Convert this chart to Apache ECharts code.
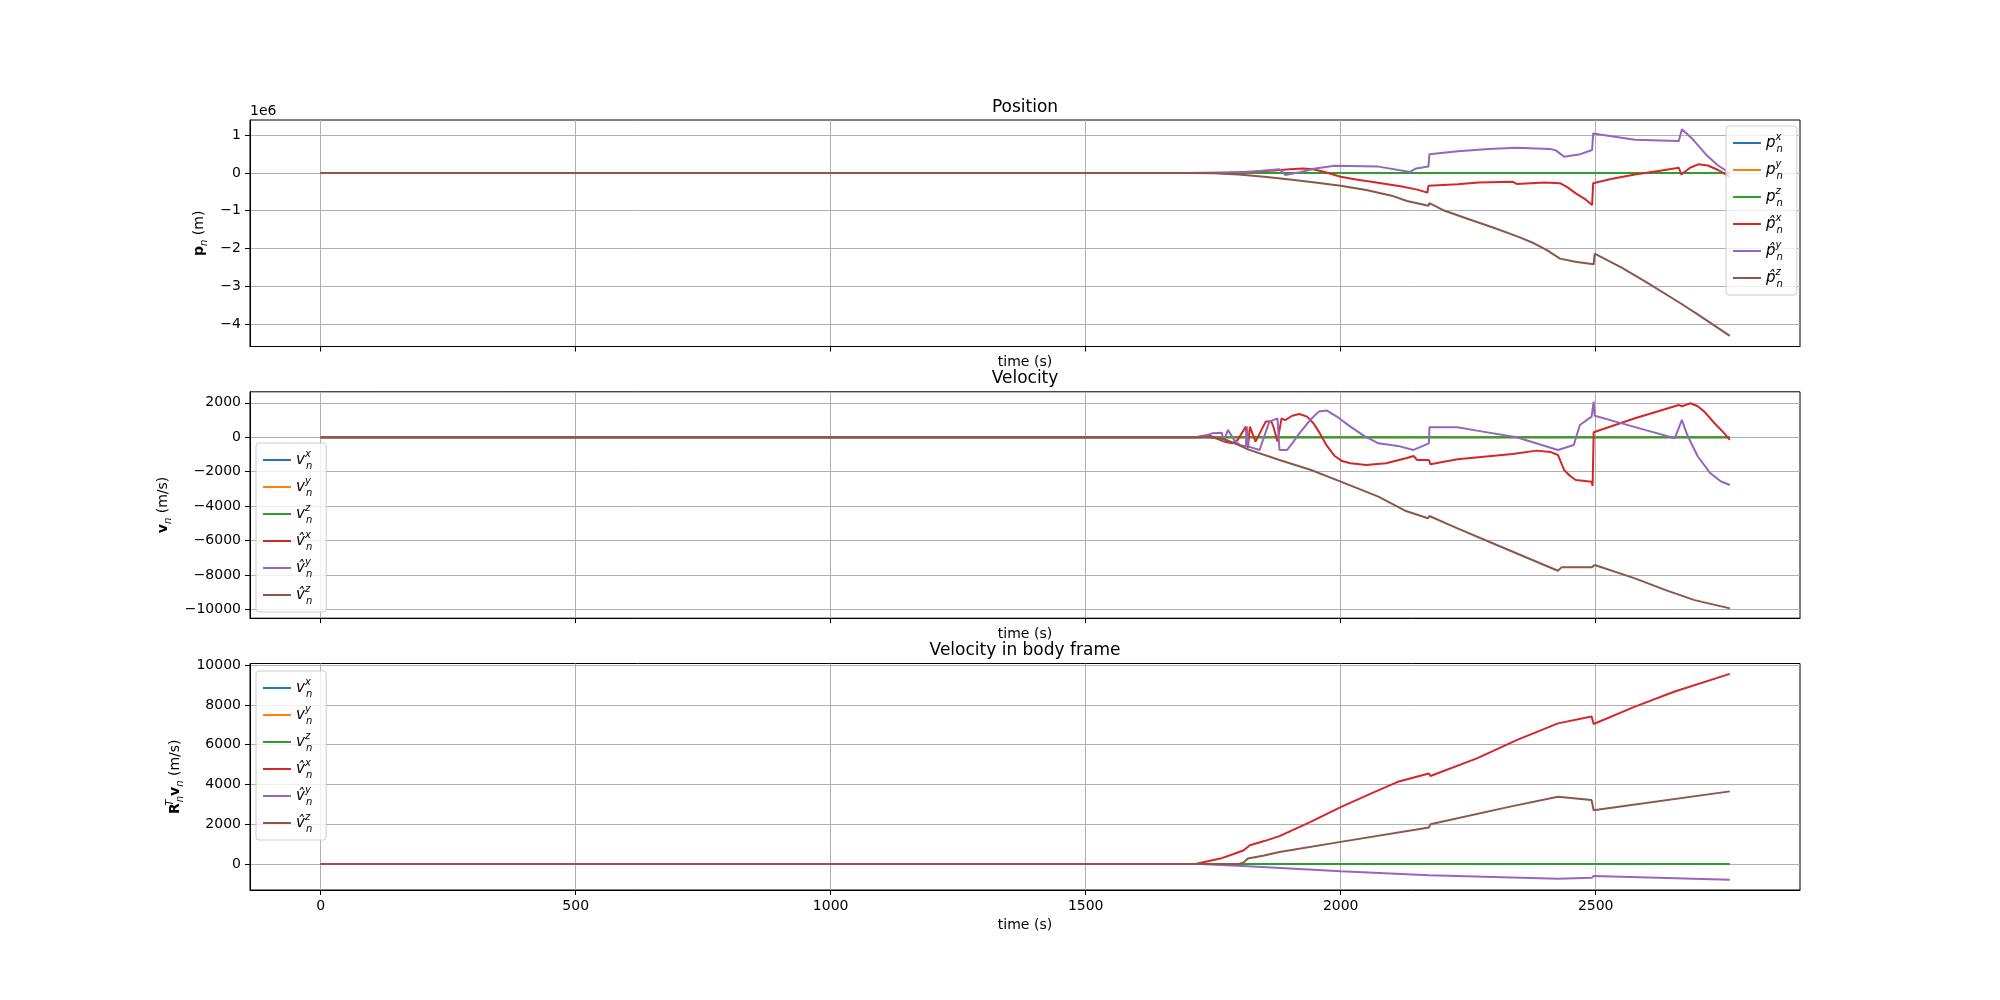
<!DOCTYPE html>
<html>
<head>
<meta charset="utf-8">
<title>Position / Velocity</title>
<script src="https://cdn.jsdelivr.net/npm/echarts@6/dist/echarts.min.js"></script>
<style>
  html, body { margin: 0; padding: 0; background: #fff; }
  #chart { width: 2000px; height: 1000px; }
</style>
</head>
<body>
<div id="chart"></div>
<script>
// shared time axis
const timeTicks = [0, 500, 1000, 1500, 2000, 2500];
const tEnd = 2763;

// Position panel, values in 1e6 m, points are [time (s), value]
const posTicks = [-4, -3, -2, -1, 0, 1];
const posTrueX = [[0, 0], [tEnd, 0]];
const posTrueY = [[0, 0], [tEnd, 0]];
const posTrueZ = [[0, 0], [tEnd, 0]];
const posHatX = [[0, 0], [1700, 0], [1780, 0.01], [1830, 0.04], [1870, 0.07], [1900, 0.1], [1926, 0.12],
  [1945, 0.1], [1965, 0.04], [1985, -0.04], [2000, -0.1], [2030, -0.17], [2070, -0.25], [2120, -0.36],
  [2150, -0.44], [2170, -0.52], [2172, -0.34], [2230, -0.3], [2270, -0.25], [2337, -0.23],
  [2345, -0.29], [2400, -0.25], [2430, -0.27], [2445, -0.38], [2461, -0.54], [2480, -0.7], [2493, -0.85],
  [2495, -0.27], [2530, -0.16], [2577, -0.04], [2620, 0.05], [2663, 0.14], [2668, -0.04], [2685, 0.14],
  [2701, 0.23], [2720, 0.2], [2740, 0.08], [2763, -0.1]];
const posHatY = [[0, 0], [1700, 0], [1818, 0.03], [1880, 0.1], [1891, -0.05], [1920, 0.02], [1950, 0.12],
  [1988, 0.19], [2074, 0.17], [2136, 0.03], [2148, 0.12], [2172, 0.17], [2174, 0.5], [2230, 0.58],
  [2290, 0.64], [2345, 0.67], [2410, 0.64], [2422, 0.6], [2438, 0.43], [2470, 0.5], [2493, 0.61],
  [2495, 1.05], [2577, 0.88], [2663, 0.85], [2669, 1.16], [2690, 0.9], [2717, 0.48], [2740, 0.2], [2763, 0.0]];
const posHatZ = [[0, 0], [1700, 0], [1750, -0.005], [1800, -0.04], [1850, -0.1], [1900, -0.17], [1950, -0.25],
  [2000, -0.34], [2050, -0.45], [2100, -0.6], [2130, -0.74], [2172, -0.87], [2174, -0.8], [2200, -0.98],
  [2250, -1.22], [2300, -1.45], [2350, -1.7], [2380, -1.87], [2405, -2.05], [2430, -2.27], [2460, -2.35],
  [2496, -2.42], [2498, -2.14], [2550, -2.5], [2600, -2.9], [2667, -3.46], [2700, -3.75], [2763, -4.32]];

// Velocity panel (m/s)
const velTicks = [-10000, -8000, -6000, -4000, -2000, 0, 2000];
const velTrueX = [[0, 0], [tEnd, 0]];
const velTrueY = [[0, 0], [tEnd, 0]];
const velTrueZ = [[0, 0], [tEnd, 0]];
const velHatX = [[0, 0], [1715, 0], [1740, 130], [1756, -60], [1771, -250], [1787, -350], [1798, -150],
  [1814, 620], [1818, -640], [1822, 620], [1833, -250], [1853, 910], [1864, 910], [1868, 620], [1876, -250],
  [1884, 1100], [1891, 1000], [1905, 1250], [1919, 1355], [1934, 1200], [1947, 800], [1957, 330],
  [1972, -450], [1988, -1084], [2003, -1380], [2019, -1510], [2050, -1607], [2089, -1510], [2128, -1220],
  [2143, -1084], [2150, -1316], [2173, -1316], [2176, -1568], [2229, -1278], [2337, -968], [2384, -774],
  [2411, -850], [2426, -1026], [2438, -1897], [2450, -2250], [2461, -2478], [2492, -2575], [2494, -2826],
  [2496, 290], [2577, 1104], [2663, 1878], [2669, 1800], [2686, 1975], [2700, 1800], [2713, 1490],
  [2733, 813], [2750, 300], [2763, -155]];
const velHatY = [[0, 0], [1725, 0], [1748, 230], [1767, 270], [1770, -250], [1779, 425], [1791, -150],
  [1802, -445], [1814, -540], [1816, 620], [1819, -540], [1841, -735], [1860, 910], [1876, 1100],
  [1880, -735], [1895, -735], [1905, -350], [1919, 230], [1940, 1000], [1957, 1490], [1973, 1550],
  [1995, 1150], [2019, 620], [2045, 100], [2074, -350], [2112, -500], [2143, -735], [2173, -350],
  [2174, 580], [2229, 580], [2267, 387], [2345, 0], [2426, -735], [2457, -445], [2469, 716], [2492, 1200],
  [2496, 2070], [2498, 1250], [2539, 910], [2600, 400], [2655, -58], [2669, 1007], [2680, 100],
  [2700, -1100], [2725, -2090], [2745, -2550], [2763, -2768]];
const velHatZ = [[0, 0], [1740, 0], [1772, -116], [1800, -450], [1818, -700], [1880, -1316], [1942, -1900],
  [2000, -2575], [2074, -3446], [2128, -4279], [2171, -4700], [2174, -4570], [2229, -5285], [2306, -6253],
  [2384, -7221], [2426, -7744], [2433, -7550], [2492, -7550], [2498, -7415], [2577, -8190], [2640, -8900],
  [2694, -9450], [2763, -9930]];

// Velocity in body frame panel (m/s)
const bodyTicks = [0, 2000, 4000, 6000, 8000, 10000];
const bodyTrueX = [[0, 0], [tEnd, 0]];
const bodyTrueY = [[0, 0], [tEnd, 0]];
const bodyTrueZ = [[0, 0], [tEnd, 0]];
const bodyHatX = [[0, 0], [1715, 0], [1764, 270], [1790, 500], [1810, 690], [1822, 940], [1850, 1150],
  [1880, 1400], [1940, 2100], [2000, 2860], [2060, 3550], [2112, 4130], [2173, 4550], [2176, 4420],
  [2267, 5310], [2345, 6230], [2426, 7070], [2492, 7410], [2496, 7040], [2577, 7910], [2655, 8670],
  [2763, 9560]];
const bodyHatY = [[0, 0], [1725, 0], [1818, -120], [2000, -370], [2173, -570], [2426, -740], [2492, -700],
  [2496, -600], [2763, -790]];
const bodyHatZ = [[0, 0], [1800, 0], [1810, 80], [1818, 270], [1850, 420], [1880, 600], [2000, 1110],
  [2173, 1830], [2176, 2000], [2330, 2870], [2426, 3380], [2492, 3210], [2496, 2700], [2763, 3650]];

const FONT = 'DejaVu Sans';
const colors = ['#1f77b4', '#ff7f0e', '#2ca02c', '#d62728', '#9467bd', '#8c564b'];

const mathLabels = {
  px: '{it|p}{sup|x}{sub|n}', py: '{it|p}{sup|y}{sub|n}', pz: '{it|p}{sup|z}{sub|n}',
  pxh: '{it|p\u0302}{sup|x}{sub|n}', pyh: '{it|p\u0302}{sup|y}{sub|n}', pzh: '{it|p\u0302}{sup|z}{sub|n}',
  vx: '{it|v}{sup|x}{sub|n}', vy: '{it|v}{sup|y}{sub|n}', vz: '{it|v}{sup|z}{sub|n}',
  vxh: '{it|v\u0302}{sup|x}{sub|n}', vyh: '{it|v\u0302}{sup|y}{sub|n}', vzh: '{it|v\u0302}{sup|z}{sub|n}'
};
const mathRich = {
  it: { fontFamily: FONT, fontStyle: 'italic', fontSize: 15, lineHeight: 22, verticalAlign: 'middle', color: '#000' },
  b: { fontFamily: FONT, fontWeight: 'bold', fontSize: 14, lineHeight: 20, verticalAlign: 'middle', color: '#000' },
  sup: { fontFamily: FONT, fontStyle: 'italic', fontSize: 10, lineHeight: 11, verticalAlign: 'top', width: 1, color: '#000' },
  sub: { fontFamily: FONT, fontStyle: 'italic', fontSize: 10, lineHeight: 11, verticalAlign: 'bottom', color: '#000' }
};

const minus = (v) => String(v).replace('-', '\u2212');

const grids = [
  { left: 250, top: 120, width: 1550, height: 226.5 },
  { left: 250, top: 391.8, width: 1550, height: 226.4 },
  { left: 250, top: 663.5, width: 1550, height: 226.5 }
].map((g) => Object.assign(g, { show: true, borderColor: '#000', borderWidth: 1, backgroundColor: 'transparent' }));

function xAxisFor(i, gap, showLabels) {
  return {
    type: 'value', gridIndex: i, min: -138.6, max: 2900.6,
    name: 'time (s)', nameLocation: 'middle', nameGap: gap,
    nameTextStyle: { fontFamily: FONT, fontSize: 14, color: '#000' },
    axisLine: { show: true, onZero: false, lineStyle: { color: '#000', width: 1 } },
    axisTick: { show: true, length: 5, customValues: timeTicks, lineStyle: { color: '#000' } },
    axisLabel: { show: showLabels, margin: 9, customValues: timeTicks, fontFamily: FONT, fontSize: 14,
      color: '#000', formatter: minus },
    splitLine: { show: true, lineStyle: { color: '#b0b0b0', width: 1 } }
  };
}

function yAxisFor(i, min, max, ticks, name, gap) {
  return {
    type: 'value', gridIndex: i, min: min, max: max,
    name: name, nameLocation: 'middle', nameGap: gap,
    nameTextStyle: { fontFamily: FONT, fontSize: 14, lineHeight: 20, color: '#000', rich: mathRich },
    axisLine: { show: true, onZero: false, lineStyle: { color: '#000', width: 1 } },
    axisTick: { show: true, length: 5, customValues: ticks, lineStyle: { color: '#000' } },
    axisLabel: { margin: 9, customValues: ticks, fontFamily: FONT, fontSize: 14, color: '#000', formatter: minus },
    splitLine: { show: true, lineStyle: { color: '#b0b0b0', width: 1 } }
  };
}

function lineSeries(name, data, color, i) {
  return {
    name: name, type: 'line', data: data, xAxisIndex: i, yAxisIndex: i,
    showSymbol: false, symbol: 'none', color: color,
    lineStyle: { color: color, width: 2 }
  };
}

const panels = [
  { names: ['px', 'py', 'pz', 'pxh', 'pyh', 'pzh'], data: [posTrueX, posTrueY, posTrueZ, posHatX, posHatY, posHatZ] },
  { names: ['vx', 'vy', 'vz', 'vxh', 'vyh', 'vzh'], data: [velTrueX, velTrueY, velTrueZ, velHatX, velHatY, velHatZ] },
  { names: ['vx', 'vy', 'vz', 'vxh', 'vyh', 'vzh'], data: [bodyTrueX, bodyTrueY, bodyTrueZ, bodyHatX, bodyHatY, bodyHatZ] }
];
const series = [];
panels.forEach((p, i) => {
  p.names.forEach((n, k) => series.push(lineSeries(n, p.data[k], colors[k], i)));
});

function legendAt(left, top, names) {
  return {
    orient: 'vertical', left: left, top: top, data: names,
    icon: 'rect', itemWidth: 28, itemHeight: 2, itemGap: 5,
    padding: [6, 14, 6, 7],
    backgroundColor: 'rgba(255,255,255,0.8)', borderColor: '#cccccc', borderWidth: 1, borderRadius: 3,
    selectedMode: false,
    textStyle: { fontFamily: FONT, fontSize: 14, color: '#000', rich: mathRich },
    formatter: (name) => mathLabels[name]
  };
}

function titleText(text, y) {
  return {
    type: 'text', x: 1025, y: y,
    style: { text: text, align: 'center', verticalAlign: 'middle', fontFamily: FONT, fontSize: 17, fill: '#000' }
  };
}

const chart = echarts.init(document.getElementById('chart'));
chart.setOption({
  animation: false,
  backgroundColor: '#fff',
  grid: grids,
  xAxis: [xAxisFor(0, 9, false), xAxisFor(1, 9, false), xAxisFor(2, 28, true)],
  yAxis: [
    yAxisFor(0, -4.60, 1.406, posTicks, '{b|p}{sub|n} (m)', 36),
    yAxisFor(1, -10500, 2640, velTicks, '{b|v}{sub|n} (m/s)', 71),
    yAxisFor(2, -1310, 10080, bodyTicks, '{b|R}{sup|T}{sub|n}{b|v}{sub|n} (m/s)', 62)
  ],
  legend: [
    legendAt(1726, 126, panels[0].names),
    legendAt(256, 443, panels[1].names),
    legendAt(256, 671, panels[2].names)
  ],
  graphic: [
    titleText('Position', 108),
    titleText('Velocity', 379),
    titleText('Velocity in body frame', 651),
    {
      type: 'text', x: 250, y: 111.5,
      style: { text: '1e6', align: 'left', verticalAlign: 'middle', fontFamily: FONT, fontSize: 14, fill: '#000' }
    }
  ],
  series: series
});
</script>
</body>
</html>
